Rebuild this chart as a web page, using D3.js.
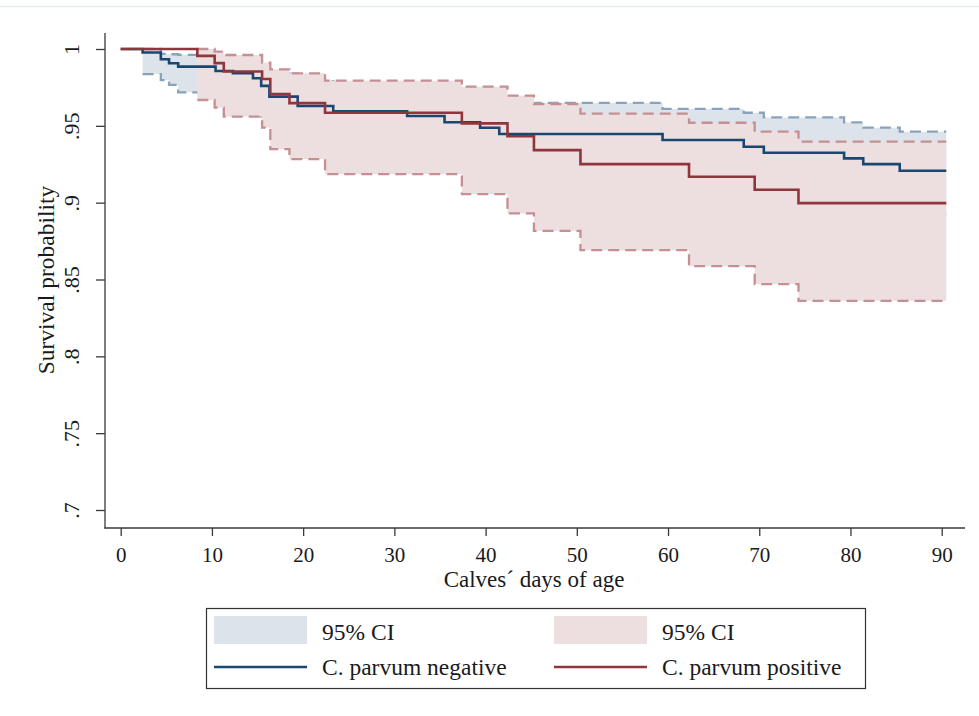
<!DOCTYPE html>
<html lang="en">
<head>
<meta charset="utf-8">
<title>Survival by C. parvum status</title>
<script src="https://d3js.org/d3.v7.min.js"></script>
<style>
  body { margin: 0; background: #fff; }
  svg { display: block; font-family: "Liberation Serif", "DejaVu Serif", serif; }
</style>
</head>
<body>
<div id="chart"></div>
<script>
  // Kaplan-Meier steps (days, survival)
  const negTime  = [0, 2.4, 4.4, 5.3, 6.3, 10.4, 12.3, 14.5, 15.4, 16.3, 19.4, 23.3, 31.4, 35.5, 39.4, 41.5, 59.4, 68.3, 70.5, 79.3, 81.4, 85.4];
  const negSurv  = [1, 0.9977, 0.9933, 0.9907, 0.9885, 0.9857, 0.9842, 0.9810, 0.9760, 0.9690, 0.9629, 0.9594, 0.9564, 0.9523, 0.9488, 0.9447, 0.9408, 0.9364, 0.9325, 0.9288, 0.9251, 0.9208];
  const negUpper = [1, 1, 0.9968, 0.9966, 0.9962, 0.9950, 0.9940, 0.9920, 0.9890, 0.9840, 0.9790, 0.9770, 0.9740, 0.9710, 0.9680, 0.9650, 0.9610, 0.9585, 0.9555, 0.9523, 0.9488, 0.9462];
  const negLower = [1, 0.9837, 0.9798, 0.9766, 0.9718, 0.9680, 0.9660, 0.9620, 0.9560, 0.9500, 0.9410, 0.9370, 0.9330, 0.9280, 0.9240, 0.9190, 0.9150, 0.9100, 0.9050, 0.9010, 0.8970, 0.8920];

  const posTime  = [0, 8.4, 10.3, 11.3, 15.5, 16.4, 18.5, 22.4, 37.4, 42.4, 45.3, 50.4, 62.3, 69.5, 74.3];
  const posSurv  = [1, 0.9955, 0.9908, 0.9854, 0.9805, 0.9707, 0.9648, 0.9585, 0.9516, 0.9432, 0.9342, 0.9251, 0.9169, 0.9084, 0.8997];
  const posUpper = [1, 1, 0.9983, 0.9961, 0.9911, 0.9868, 0.9842, 0.9794, 0.9755, 0.9696, 0.9642, 0.9580, 0.9520, 0.9462, 0.9397];
  const posLower = [1, 0.9668, 0.9618, 0.9560, 0.9488, 0.9349, 0.9284, 0.9186, 0.9056, 0.8930, 0.8817, 0.8691, 0.8587, 0.8470, 0.8361];

  const lastDay = 90.5;

  const xTicks = [0, 10, 20, 30, 40, 50, 60, 70, 80, 90];
  const yTicks = [0.7, 0.75, 0.8, 0.85, 0.9, 0.95, 1];
  const yTickLabels = [".7", ".75", ".8", ".85", ".9", ".95", "1"];

  const legendLabels = ["95% CI", "95% CI", "C. parvum negative", "C. parvum positive"];

  const blueLine = "#1a476f", redLine = "#90353b";
  const blueFill = "#dde3ea", redFill = "#eddfe0";
  const blueDash = "#8aa3bb", redDash = "#c58f94";

  const width = 979, height = 716;

  const svg = d3.select("#chart").append("svg")
    .attr("width", width)
    .attr("height", height);

  // faint outer frame line at the top
  svg.append("line")
    .attr("x1", 0).attr("x2", width)
    .attr("y1", 6.5).attr("y2", 6.5)
    .attr("stroke", "#e6ecf0").attr("stroke-width", 1.5);

  const x = d3.scaleLinear().domain([0, 90]).range([120.7, 941.7]);
  const y = d3.scaleLinear().domain([0.7, 1]).range([510, 49]);

  // turn parallel arrays into step points, with the end of follow-up appended
  function toSteps(times, vals, from) {
    const pts = times.map((t, i) => [t, vals[i]]).slice(from || 0);
    pts.push([lastDay, vals[vals.length - 1]]);
    return pts;
  }
  function toBand(times, lo, hi) {
    const pts = times.map((t, i) => ({ t: t, lo: lo[i], hi: hi[i] })).slice(1);
    pts.push({ t: lastDay, lo: lo[lo.length - 1], hi: hi[hi.length - 1] });
    return pts;
  }

  const line = d3.line()
    .x(d => x(d[0]))
    .y(d => y(d[1]))
    .curve(d3.curveStepAfter);

  const area = d3.area()
    .x(d => x(d.t))
    .y0(d => y(d.lo))
    .y1(d => y(d.hi))
    .curve(d3.curveStepAfter);

  const plot = svg.append("g");

  function drawBand(times, lo, hi, fill, dash) {
    plot.append("path")
      .datum(toBand(times, lo, hi))
      .attr("d", area)
      .attr("fill", fill);
    [hi, lo].forEach(function(v) {
      plot.append("path")
        .datum(toSteps(times, v, 1))
        .attr("d", line)
        .attr("fill", "none")
        .attr("stroke", dash)
        .attr("stroke-width", 2.3)
        .attr("stroke-dasharray", "11,6");
    });
  }

  drawBand(negTime, negLower, negUpper, blueFill, blueDash);
  drawBand(posTime, posLower, posUpper, redFill, redDash);

  plot.append("path")
    .datum(toSteps(negTime, negSurv))
    .attr("d", line)
    .attr("fill", "none")
    .attr("stroke", blueLine)
    .attr("stroke-width", 2.6);

  plot.append("path")
    .datum(toSteps(posTime, posSurv))
    .attr("d", line)
    .attr("fill", "none")
    .attr("stroke", redLine)
    .attr("stroke-width", 2.6);

  // axes
  const axisColor = "#3a3a3a";

  const yAxis = svg.append("g")
    .attr("transform", "translate(105,0)")
    .call(d3.axisLeft(y).tickValues(yTicks).tickSize(9)
      .tickFormat((d, i) => yTickLabels[i]));
  yAxis.select(".domain").remove();
  yAxis.selectAll(".tick line").attr("stroke", axisColor).attr("stroke-width", 1.3);
  yAxis.selectAll(".tick text")
    .attr("transform", "rotate(-90)")
    .attr("x", 0).attr("y", -26).attr("dy", 0)
    .attr("text-anchor", "middle")
    .attr("fill", "#1a1a1a")
    .style("font-family", "Liberation Serif")
    .style("font-size", "22px");

  const xAxis = svg.append("g")
    .attr("transform", "translate(0,528)")
    .call(d3.axisBottom(x).tickValues(xTicks).tickSize(8));
  xAxis.select(".domain").remove();
  xAxis.selectAll(".tick line").attr("stroke", axisColor).attr("stroke-width", 1.3);
  xAxis.selectAll(".tick text")
    .attr("y", 34).attr("dy", 0)
    .attr("fill", "#1a1a1a")
    .style("font-family", "Liberation Serif")
    .style("font-size", "21px");

  svg.append("line")
    .attr("x1", 105).attr("x2", 105).attr("y1", 33).attr("y2", 528.6)
    .attr("stroke", axisColor).attr("stroke-width", 1.3);
  svg.append("line")
    .attr("x1", 104.4).attr("x2", 965).attr("y1", 528).attr("y2", 528)
    .attr("stroke", axisColor).attr("stroke-width", 1.3);

  svg.append("text")
    .attr("x", 534).attr("y", 587)
    .attr("text-anchor", "middle")
    .attr("fill", "#1a1a1a")
    .style("font-size", "23px")
    .text("Calves\u00b4 days of age");

  svg.append("text")
    .attr("transform", "translate(54,280) rotate(-90)")
    .attr("text-anchor", "middle")
    .attr("fill", "#1a1a1a")
    .style("font-size", "23.5px")
    .text("Survival probability");

  // legend
  const legend = svg.append("g");
  legend.append("rect")
    .attr("x", 206.5).attr("y", 608.5)
    .attr("width", 659).attr("height", 80)
    .attr("fill", "#fff")
    .attr("stroke", "#333").attr("stroke-width", 1.2);

  const cols = [214, 554];
  [blueFill, redFill].forEach(function(c, i) {
    legend.append("rect")
      .attr("x", cols[i]).attr("y", 616)
      .attr("width", 93).attr("height", 28)
      .attr("fill", c);
  });
  [blueLine, redLine].forEach(function(c, i) {
    legend.append("line")
      .attr("x1", cols[i]).attr("x2", cols[i] + 93)
      .attr("y1", 667).attr("y2", 667)
      .attr("stroke", c).attr("stroke-width", 2.6);
  });
  legendLabels.forEach(function(t, i) {
    legend.append("text")
      .attr("x", cols[i % 2] + 108)
      .attr("y", i < 2 ? 640 : 675)
      .attr("fill", "#1a1a1a")
      .style("font-size", "23.5px")
      .text(t);
  });
</script>
</body>
</html>
